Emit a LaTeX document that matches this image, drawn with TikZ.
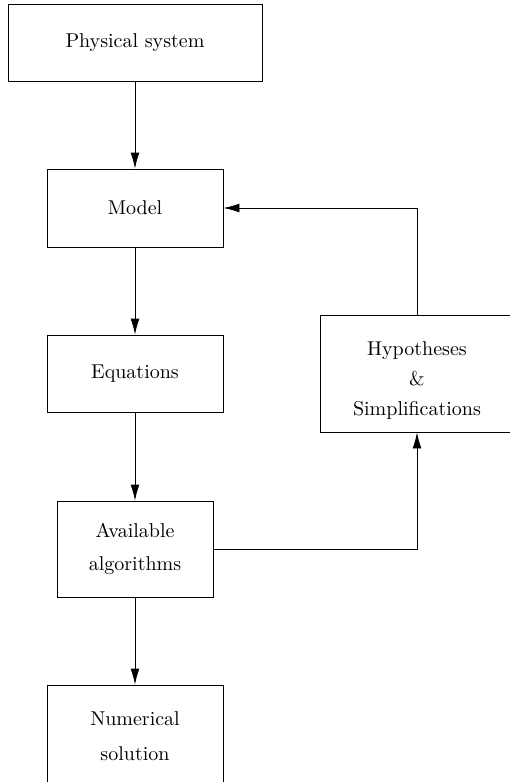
\documentclass[tikz,border=0pt]{standalone}
\usepackage{tikz}
\usetikzlibrary{arrows.meta}

\begin{document}
\begin{tikzpicture}[x=0.5pt,y=-0.5pt,
	box/.style={draw,inner sep=0pt,align=center},
	arr/.style={-{Latex[length=8pt,width=4.4pt]}}]
	
	\useasboundingbox (0,0) rectangle (509,782);
	
	\node[box,minimum width=127pt,minimum height=38.5pt] at (135,42.5) (phys) {Physical system};
	\node[box,minimum width=88pt,minimum height=39pt] at (135,208) (model) {Model};
	\node[box,minimum width=88pt,minimum height=38.5pt] at (135,373.5) (eqs) {Equations};
	\node[box,minimum width=78pt,minimum height=48pt] at (135,549) (algo) {Available\\[4.5pt]algorithms};
	\node[box,minimum width=88pt,minimum height=51pt] at (135,736) (numsol) {Numerical\\[5.5pt]solution};
	\node[box,minimum width=97pt,minimum height=58.5pt] at (417,373.5) (hyp) {\rule{0pt}{14pt}Hypotheses\\[3pt]\&\\[3pt]Simplifications};
	
	\foreach \a/\b in {phys/model,model/eqs,eqs/algo,algo/numsol}
		\draw[arr] (\a) -- (\b);
	
	\draw[arr] (algo.east) -| (hyp.south);
	\draw[arr] (hyp.north) |- (model.east);
\end{tikzpicture}
\end{document}
